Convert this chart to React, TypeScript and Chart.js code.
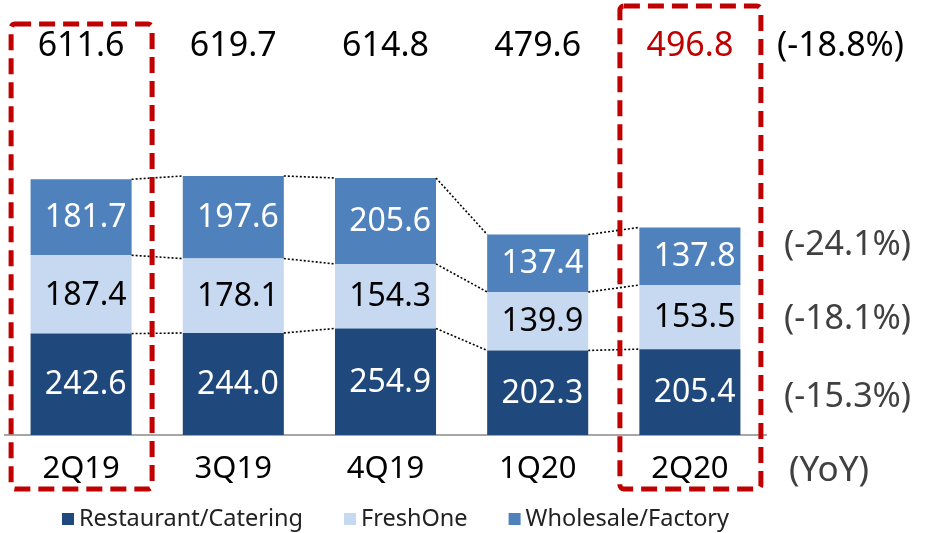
import { useEffect, useRef } from 'react';
import { Chart, registerables } from 'chart.js';

Chart.register(...registerables);

const categories = ['2Q19', '3Q19', '4Q19', '1Q20', '2Q20'];
const restaurantCatering = [242.6, 244.0, 254.9, 202.3, 205.4];
const freshOne = [187.4, 178.1, 154.3, 139.9, 153.5];
const wholesaleFactory = [181.7, 197.6, 205.6, 137.4, 137.8];
const totals = [611.6, 619.7, 614.8, 479.6, 496.8];
const seriesNames = ['Restaurant/Catering', 'FreshOne', 'Wholesale/Factory'];
const seriesYoY = ['(-15.3%)', '(-18.1%)', '(-24.1%)'];
const totalYoY = '(-18.8%)';
const yoyTitle = '(YoY)';
const highlightedIndexes = [0, 4];

const FONT = '"Noto Sans", sans-serif';
const BAR_COLORS = ['#1F497D', '#C6D9F1', '#4F81BD'];
const LABEL_COLORS = ['#FFFFFF', '#000000', '#FFFFFF'];
const RED = '#C00000';

const overlayPlugin = {
  id: 'overlay',
  afterDatasetsDraw(chart: any) {
    const ctx = chart.ctx;
    ctx.save();
    ctx.setLineDash([2, 2]);
    ctx.lineWidth = 1.6;
    ctx.strokeStyle = '#000';
    chart.data.datasets.forEach((_ds: any, di: number) => {
      const bars = chart.getDatasetMeta(di).data;
      for (let i = 0; i < bars.length - 1; i++) {
        const a = bars[i].getProps(['x', 'y', 'width'], true);
        const b = bars[i + 1].getProps(['x', 'y', 'width'], true);
        ctx.beginPath();
        ctx.moveTo(a.x + a.width / 2, a.y);
        ctx.lineTo(b.x - b.width / 2, b.y);
        ctx.stroke();
      }
    });
    ctx.setLineDash([]);
    ctx.font = `32px ${FONT}`;
    ctx.textAlign = 'right';
    ctx.textBaseline = 'middle';
    chart.data.datasets.forEach((ds: any, di: number) => {
      const bars = chart.getDatasetMeta(di).data;
      bars.forEach((bar: any, i: number) => {
        const p = bar.getProps(['x', 'y', 'base', 'width'], true);
        ctx.fillStyle = LABEL_COLORS[di];
        ctx.fillText(Number(ds.data[i]).toFixed(1), p.x + p.width / 2 - 5, (p.y + p.base) / 2 + 1);
      });
    });
    ctx.restore();
  },
  afterDraw(chart: any) {
    const ctx = chart.ctx;
    const xScale = chart.scales.x;
    ctx.save();
    // totals
    ctx.font = `34px ${FONT}`;
    ctx.textAlign = 'center';
    ctx.textBaseline = 'middle';
    totals.forEach((t, i) => {
      ctx.fillStyle = i === totals.length - 1 ? RED : '#000';
      ctx.fillText(t.toFixed(1), xScale.getPixelForValue(i), 46);
    });
    // right-hand YoY labels
    ctx.textAlign = 'left';
    ctx.fillStyle = '#000';
    ctx.fillText(totalYoY, 777, 46);
    ctx.fillStyle = '#404040';
    const yoyY = [397, 319, 245];
    seriesYoY.forEach((s, i) => ctx.fillText(s, 784, yoyY[i]));
    ctx.font = `35px ${FONT}`;
    ctx.fillText(yoyTitle, 789, 471);
    // legend
    ctx.font = `23.5px ${FONT}`;
    let lx = 62;
    chart.data.datasets.forEach((ds: any) => {
      ctx.fillStyle = ds.backgroundColor;
      ctx.fillRect(lx, 513, 12, 12);
      ctx.fillStyle = '#222';
      ctx.fillText(ds.label, lx + 17, 519);
      lx += 17 + ctx.measureText(ds.label).width + 41;
    });
    // dashed highlight boxes
    ctx.strokeStyle = RED;
    ctx.lineWidth = 5;
    ctx.setLineDash([16, 8]);
    const tops: Record<number, number> = { 0: 24, 4: 6 };
    highlightedIndexes.forEach((idx) => {
      const cx = xScale.getPixelForValue(idx) + 0.5;
      const top = tops[idx] ?? 24;
      ctx.beginPath();
      ctx.roundRect(cx - 70.5, top, 141, 489 - top, 4);
      ctx.stroke();
    });
    ctx.restore();
  },
};

export default function App() {
  const canvasRef = useRef<HTMLCanvasElement | null>(null);

  useEffect(() => {
    if (!canvasRef.current) return;
    const series = [restaurantCatering, freshOne, wholesaleFactory];
    const chart = new Chart(canvasRef.current, {
      type: 'bar',
      data: {
        labels: categories,
        datasets: series.map((d, i) => ({
          label: seriesNames[i],
          data: d,
          backgroundColor: BAR_COLORS[i],
          borderWidth: 0,
          barPercentage: 0.664,
          categoryPercentage: 1,
        })),
      },
      options: {
        responsive: false,
        animation: false,
        layout: { padding: { left: 5, right: 161, top: 17, bottom: 38 } },
        scales: {
          x: {
            stacked: true,
            grid: { display: false, drawTicks: false },
            border: { display: true, color: '#A6A6A6', width: 2 },
            ticks: {
              color: '#000',
              font: { family: FONT, size: 31, lineHeight: 1.2 },
              padding: 16,
            },
            afterFit: (scale: any) => {
              scale.height = 60;
            },
          },
          y: { stacked: true, display: false, min: 0, max: 1000 },
        },
        plugins: {
          legend: { display: false },
          tooltip: { enabled: false },
        },
      },
      plugins: [overlayPlugin],
    });
    return () => chart.destroy();
  }, []);

  return (
    <div style={{ position: 'fixed', left: 0, top: 0, width: 927, height: 533, background: '#fff' }}>
      <canvas ref={canvasRef} width={927} height={533} style={{ display: 'block' }} />
    </div>
  );
}
